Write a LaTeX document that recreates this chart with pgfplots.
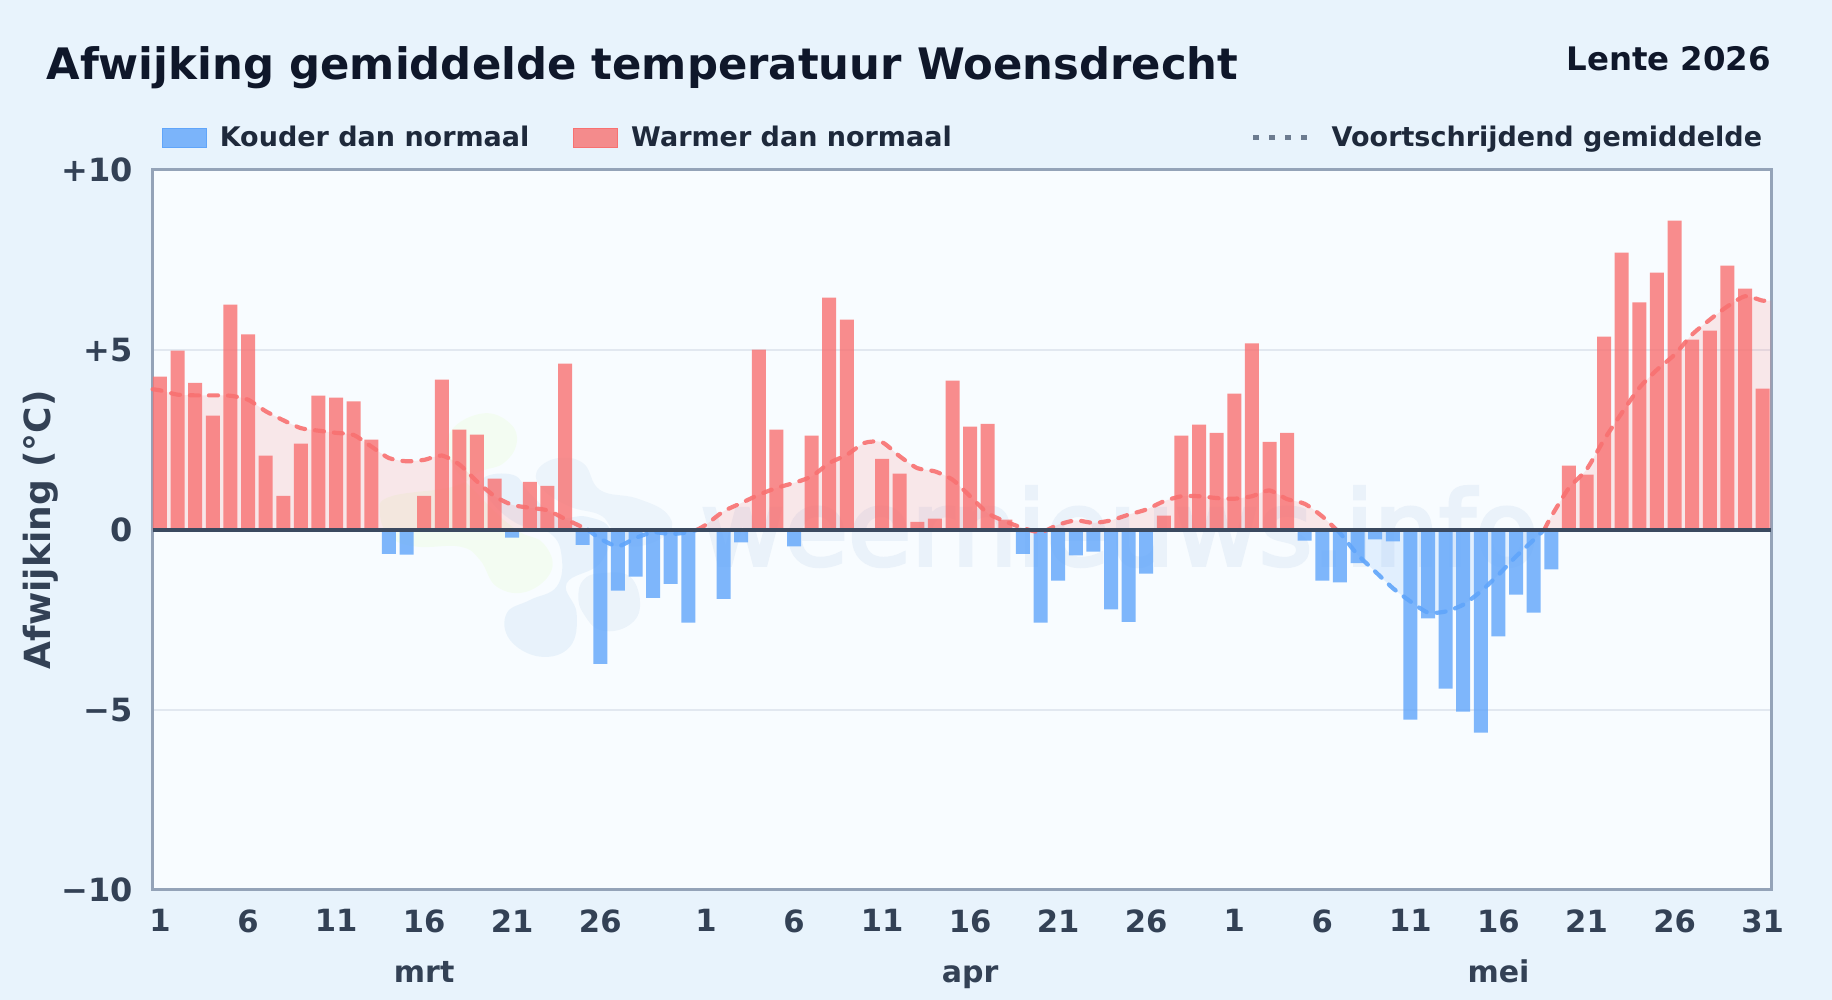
\documentclass[border=0pt]{standalone}
\usepackage{fontspec}
\setmainfont{DejaVu Sans}
\newfontfamily\wmfont[FakeBold=3.5]{DejaVu Sans}
\usepackage{pgfplots}
\usepackage{pgfplotstable}
\pgfplotsset{compat=1.18}

\definecolor{pagebg}{HTML}{E8F3FC}
\definecolor{plotbg}{HTML}{F8FCFF}
\definecolor{warm}{HTML}{F87171}
\definecolor{cold}{HTML}{60A5FA}
\definecolor{frame}{HTML}{94A3B8}
\definecolor{gridc}{HTML}{E2E8F0}
\definecolor{zeroc}{HTML}{3B4A60}
\definecolor{labelc}{HTML}{334155}
\definecolor{legendc}{HTML}{1E293B}
\definecolor{titlec}{HTML}{0F172A}
\definecolor{wmtext}{HTML}{EAF2FA}

% daily deviation, day 1 = 1 March
\pgfplotstableread{
x y
1 4.25
2 4.97
3 4.08
4 3.17
5 6.25
6 5.42
7 2.06
8 0.94
9 2.39
10 3.72
11 3.67
12 3.56
13 2.50
16 0.94
17 4.17
18 2.78
19 2.64
20 1.42
22 1.33
23 1.22
24 4.61
35 5.00
36 2.78
38 2.61
39 6.44
40 5.83
42 1.97
43 1.56
44 0.22
45 0.31
46 4.14
47 2.86
48 2.94
49 0.28
58 0.39
59 2.61
60 2.92
61 2.69
62 3.78
63 5.17
64 2.44
65 2.69
81 1.78
82 1.53
83 5.36
84 7.69
85 6.31
86 7.14
87 8.58
88 5.28
89 5.53
90 7.33
91 6.69
92 3.92
}\warmbars

\pgfplotstableread{
x y
14 -0.67
15 -0.69
21 -0.22
25 -0.42
26 -3.72
27 -1.69
28 -1.30
29 -1.89
30 -1.50
31 -2.58
33 -1.92
34 -0.35
37 -0.46
50 -0.67
51 -2.58
52 -1.41
53 -0.71
54 -0.61
55 -2.21
56 -2.56
57 -1.22
66 -0.30
67 -1.41
68 -1.46
69 -0.93
70 -0.27
71 -0.32
72 -5.27
73 -2.46
74 -4.41
75 -5.05
76 -5.63
77 -2.96
78 -1.80
79 -2.30
80 -1.10
}\coldbars

% moving average, cut where it changes sign
\pgfplotstableread{
x y
0.58 3.90
1 3.87
2 3.75
3 3.73
4 3.73
5 3.72
6 3.61
7 3.29
8 3.04
9 2.82
10 2.75
11 2.69
12 2.63
13 2.31
14 1.99
15 1.90
16 1.94
17 2.06
18 1.81
19 1.34
20 0.93
21 0.69
22 0.61
23 0.54
24 0.30
25 0.07
25.3 0
}\maA
\pgfplotstableread{
x y
25.3 0
26 -0.25
27 -0.46
28 -0.23
29 -0.07
30 -0.12
31 -0.07
31.5 0
}\maB
\pgfplotstableread{
x y
31.5 0
32 0.14
33 0.51
34 0.74
35 0.97
36 1.16
37 1.30
38 1.48
39 1.85
40 2.08
41 2.41
42 2.43
43 2.04
44 1.71
45 1.62
46 1.39
47 0.93
48 0.46
49 0.23
50 0.05
51 -0.07
52 0.14
53 0.26
54 0.19
55 0.26
56 0.42
57 0.56
58 0.79
59 0.93
60 0.93
61 0.88
62 0.86
63 0.93
64 1.09
65 0.85
66 0.72
67 0.37
67.8 0
}\maC
\pgfplotstableread{
x y
67.8 0
68 -0.09
69 -0.69
70 -1.16
71 -1.62
72 -1.99
73 -2.30
74 -2.27
75 -2.08
76 -1.71
77 -1.25
78 -0.74
79 -0.28
79.6 0
}\maD
\pgfplotstableread{
x y
79.6 0
80 0.37
81 1.16
82 1.67
83 2.50
84 3.24
85 3.94
86 4.44
87 4.86
88 5.42
89 5.83
90 6.20
91 6.48
92 6.36
92.5 6.36
}\maE

\begin{document}
\begin{tikzpicture}
% page and plot area, size in px at 0.5pt
\fill[pagebg] (0,0) rectangle (916pt,500pt);
\path[use as bounding box] (0,0) rectangle (916pt,500pt);
\fill[plotbg] (76.3pt,55pt) rectangle (885.7pt,415.25pt);

% watermark blobs
\begin{scope}[shift={(185pt,300pt)},x=0.16667pt,y=-0.16667pt]
\fill[green!35!yellow,opacity=0.05] plot[smooth cycle,tension=0.7] coordinates {
 (340,40) (420,70) (440,130) (400,190) (330,215) (250,260) (60,290) (30,340) (60,410) (140,440)
 (270,440) (330,480) (380,560) (470,575) (545,510) (520,430) (440,390) (340,300) (240,180) (245,90)};
\fill[blue!45!cyan!60!gray,opacity=0.08] plot[smooth cycle,tension=0.7] coordinates {
 (340,235) (430,225) (480,280) (560,350) (650,350) (720,390) (690,490) (590,550) (620,640) (600,740)
 (510,770) (420,720) (410,640) (480,600) (560,560) (575,470) (540,400) (440,370) (360,300)};
\fill[cyan!40!blue,opacity=0.05] plot[smooth cycle,tension=0.7] coordinates {
 (560,175) (640,190) (690,270) (800,295) (890,340) (895,400) (790,440) (730,390) (690,345) (600,320) (520,270) (500,215)};
\fill[cyan!40!blue,opacity=0.06] plot[smooth cycle,tension=0.7] coordinates {
 (690,520) (780,530) (810,620) (770,680) (690,690) (640,640) (625,590) (640,540)};
\end{scope}
\node[anchor=base west,inner sep=0pt,text=wmtext] at (350pt,217.5pt)
 {\wmfont\fontsize{51.5}{60}\selectfont weernieuws.info};

\begin{axis}[
    at={(76.3pt,55pt)},anchor=south west,
    scale only axis,width=809.4pt,height=360.25pt,
    xmin=0.58,xmax=92.5,ymin=-10,ymax=10,
    clip=false,
    axis line style={frame,line width=1.5pt},
    xtick={1,6,11,16,21,26,32,37,42,47,52,57,62,67,72,77,82,87,92},
    xticklabels={1,6,11,16,21,26,1,6,11,16,21,26,1,6,11,16,21,26,31},
    ytick={-10,-5,0,5,10},
    yticklabels={−10,−5,0,+5,+10},
    major tick length=0pt,
    xticklabel style={font=\bfseries\fontsize{15.3}{18}\selectfont,text=labelc,yshift=-6.3pt},
    yticklabel style={font=\bfseries\fontsize{16}{18}\selectfont,text=labelc,xshift=-6.5pt},
    ymajorgrids,
    grid style={gridc,line width=1pt},
    every axis y label/.style={at={(axis description cs:-0.0691,0.5)},rotate=90,anchor=center},
    ylabel={Afwijking (°C)},
    ylabel style={font=\bfseries\fontsize{18}{22}\selectfont,text=labelc},
    legend columns=3,
    legend style={at={(axis description cs:0.0058,1.044)},anchor=west,draw=none,fill=none,inner sep=0pt,outer sep=0pt,
        font=\bfseries\fontsize{13.5}{15}\selectfont,text=legendc,
        /tikz/column 2/.style={column sep=22pt},
        /tikz/column 4/.style={column sep=149.5pt},
        nodes={inner sep=0pt}},
]
\addlegendimage{legend image code/.code={\fill[cold,fill opacity=0.8] (0pt,-4.75pt) rectangle (22pt,4.75pt);\path (28.5pt,0);}}
\addlegendentry{Kouder dan normaal}
\addlegendimage{legend image code/.code={\fill[warm,fill opacity=0.8] (0pt,-4.75pt) rectangle (22pt,4.75pt);\path (28.5pt,0);}}
\addlegendentry{Warmer dan normaal}
\addlegendimage{legend image code/.code={\draw[frame!55!zeroc,line width=2.5pt,dash pattern=on 3pt off 5pt] (0pt,0) -- (28pt,0);\path (39pt,0);}}
\addlegendentry{Voortschrijdend gemiddelde}

% area between average and zero
\addplot[draw=none,fill=warm,fill opacity=0.15,smooth,tension=0.4,forget plot] table {\maA} \closedcycle;
\addplot[draw=none,fill=cold,fill opacity=0.15,smooth,tension=0.4,forget plot] table {\maB} \closedcycle;
\addplot[draw=none,fill=warm,fill opacity=0.15,smooth,tension=0.4,forget plot] table {\maC} \closedcycle;
\addplot[draw=none,fill=cold,fill opacity=0.15,smooth,tension=0.4,forget plot] table {\maD} \closedcycle;
\addplot[draw=none,fill=warm,fill opacity=0.15,smooth,tension=0.4,forget plot] table {\maE} \closedcycle;

% daily bars
\addplot[ybar,bar width=7pt,bar shift=0pt,draw=none,fill=warm,fill opacity=0.8,forget plot] table {\warmbars};
\addplot[ybar,bar width=7pt,bar shift=0pt,draw=none,fill=cold,fill opacity=0.8,forget plot] table {\coldbars};

% moving average
\pgfplotsset{ma/.style={line width=2.1pt,line cap=round,dash pattern=on 4.5pt off 5pt,opacity=0.9,smooth,tension=0.4,forget plot}}
\addplot[ma,warm] table {\maA};
\addplot[ma,cold] table {\maB};
\addplot[ma,warm] table {\maC};
\addplot[ma,cold] table {\maD};
\addplot[ma,warm] table {\maE};

% zero line
\addplot[zeroc,line width=1.9pt,forget plot] coordinates {(0.58,0) (92.5,0)};

% month names
\node[anchor=base,font=\bfseries\fontsize{15}{18}\selectfont,text=labelc] at (axis cs:16,-12.58) {mrt};
\node[anchor=base,font=\bfseries\fontsize{15}{18}\selectfont,text=labelc] at (axis cs:47,-12.58) {apr};
\node[anchor=base,font=\bfseries\fontsize{15}{18}\selectfont,text=labelc] at (axis cs:77,-12.58) {mei};

% title and season
\node[anchor=base west,inner sep=0pt,font=\bfseries\fontsize{21.68}{26}\selectfont,text=titlec] at (axis description cs:-0.0658,1.1256) {Afwijking gemiddelde temperatuur Woensdrecht};
\node[anchor=base east,inner sep=0pt,font=\bfseries\fontsize{16.2}{18}\selectfont,text=titlec] at (axis description cs:1,1.138) {Lente 2026};
\end{axis}
\end{tikzpicture}
\end{document}
